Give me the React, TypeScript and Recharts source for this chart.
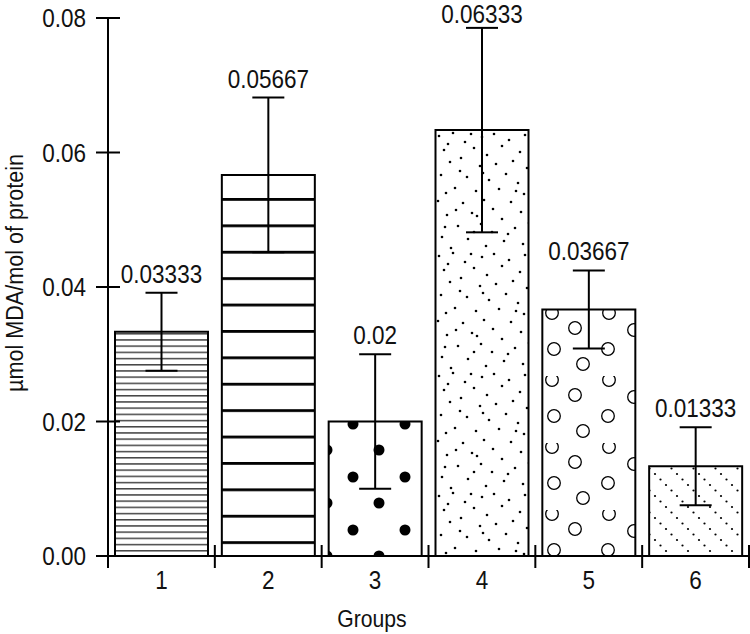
import React from 'react'
import { BarChart, Bar, XAxis, YAxis, ErrorBar, LabelList, Cell } from 'recharts'

const GROUPS = ['1', '2', '3', '4', '5', '6']
const MEANS = [0.03333, 0.05667, 0.02, 0.06333, 0.03667, 0.01333]
const ERRORS = [0.0058, 0.0115, 0.01, 0.0152, 0.0058, 0.0058]
const Y_TICKS = [0, 0.02, 0.04, 0.06, 0.08]

const FONT = '"Liberation Sans", Arial, sans-serif'
const NARROW = 0.9
const W = 750
const H = 634
const LEFT = 108
const RIGHT = 1
const HALF_BAND = (W - LEFT - RIGHT) / GROUPS.length / 2

const data = GROUPS.map((g, i) => ({ group: g, value: MEANS[i], err: ERRORS[i] }))

const FILLS = ['url(#p1)', 'url(#p2)', 'url(#p3)', 'url(#p4)', 'url(#p5)', 'url(#p6)']

// speckle positions for the group 4 texture (tile 94 x 120)
const SPECKS = [
  [3, 5], [17, 2], [29, 11], [46, 6], [58, 3], [73, 9], [89, 4], [35, 3],
  [8, 19], [38, 17], [51, 24], [66, 15], [84, 21], [12, 13],
  [14, 31], [25, 27], [44, 35], [60, 33], [77, 30], [91, 37], [24, 40],
  [5, 44], [31, 46], [53, 49], [70, 43], [82, 52], [47, 42],
  [19, 57], [40, 60], [63, 58], [88, 63], [80, 60], [10, 62],
  [2, 70], [27, 72], [48, 69], [57, 78], [75, 71],
  [11, 84], [36, 82], [66, 88], [85, 81], [41, 85], [20, 79],
  [22, 95], [45, 93], [56, 101], [79, 97], [93, 92], [9, 96],
  [6, 106], [32, 108], [68, 110], [87, 113], [72, 103],
  [15, 117], [50, 115], [38, 101],
]

const RINGS = [[11, 4], [68, 4], [34, 19], [93, 21], [13, 40], [67, 40], [42, 55]]

function Patterns() {
  return (
    <svg width={0} height={0} style={{ position: 'absolute' }}>
      <defs>
        <pattern id="p1" patternUnits="userSpaceOnUse" x={0} y={333} width={10} height={6.2}>
          <rect x={0} y={0} width={10} height={1.5} fill="#444" />
        </pattern>
        <pattern id="p2" patternUnits="userSpaceOnUse" x={0} y={198} width={10} height={26.4}>
          <rect x={0} y={0} width={10} height={2.8} fill="#000" />
        </pattern>
        <pattern id="p3" patternUnits="userSpaceOnUse" x={327} y={397} width={52} height={53}>
          <circle cx={26} cy={27} r={5.5} fill="#000" />
          <circle cx={0} cy={0} r={5.5} fill="#000" />
          <circle cx={52} cy={0} r={5.5} fill="#000" />
          <circle cx={0} cy={53} r={5.5} fill="#000" />
          <circle cx={52} cy={53} r={5.5} fill="#000" />
        </pattern>
        <pattern id="p4" patternUnits="userSpaceOnUse" x={436} y={131} width={94} height={120}>
          {SPECKS.map(([cx, cy], i) => (
            <circle key={i} cx={cx} cy={cy} r={1.3} fill="#000" />
          ))}
        </pattern>
        <pattern id="p5" patternUnits="userSpaceOnUse" x={541} y={309} width={110} height={67}>
          {RINGS.map(([cx, cy], i) => (
            <circle key={i} cx={cx} cy={cy} r={6.3} fill="none" stroke="#000" strokeWidth={1.3} />
          ))}
        </pattern>
        <pattern id="p6" patternUnits="userSpaceOnUse" x={647} y={466} width={22} height={22}>
          <circle cx={2.5} cy={2.5} r={1.1} fill="#000" />
          <circle cx={8} cy={8} r={1.1} fill="#000" />
          <circle cx={13.5} cy={13.5} r={1.1} fill="#000" />
          <circle cx={19} cy={19} r={1.1} fill="#000" />
        </pattern>
      </defs>
    </svg>
  )
}

// condensed text: plain Liberation Sans squeezed horizontally
const Narrow = ({ x, y, size, anchor = 'middle', rotate = 0, children }: any) => (
  <text
    transform={`translate(${x},${y}) rotate(${rotate}) scale(${NARROW},1)`}
    textAnchor={anchor}
    fontSize={size}
    fontFamily={FONT}
    fill="#111"
  >
    {children}
  </text>
)

const YTick = ({ x, y, payload }: any) => (
  <g>
    <line x1={x - 12} x2={x + 12} y1={y} y2={y} stroke="#000" strokeWidth={2} />
    <Narrow x={x - 22} y={y + 9} size={25} anchor="end">
      {Number(payload.value).toFixed(2)}
    </Narrow>
  </g>
)

const XTick = ({ x, y, payload, index }: any) => (
  <g>
    <line x1={x - HALF_BAND} x2={x - HALF_BAND} y1={y - 11} y2={y + 12} stroke="#000" strokeWidth={2} />
    {index === GROUPS.length - 1 && (
      <line x1={x + HALF_BAND} x2={x + HALF_BAND} y1={y - 11} y2={y + 12} stroke="#000" strokeWidth={2} />
    )}
    <Narrow x={x} y={y + 33} size={25}>
      {payload.value}
    </Narrow>
  </g>
)

const ValueLabel = (props: any) => {
  const { x, y, width, height, value, index } = props
  const perUnit = height / value
  const top = y - ERRORS[index] * perUnit
  return (
    <Narrow x={x + width / 2} y={Math.max(top - 10, 23)} size={25}>
      {String(value)}
    </Narrow>
  )
}

export default function App() {
  return (
    <div style={{ position: 'absolute', left: 0, top: 0, width: W, height: H, background: '#fff' }}>
      <Patterns />
      <BarChart width={W} height={H} data={data} margin={{ top: 18, right: RIGHT, left: 0, bottom: 0 }}>
        <XAxis
          dataKey="group"
          height={78}
          axisLine={{ stroke: '#000', strokeWidth: 2 }}
          tickLine={false}
          tickSize={0}
          tickMargin={0}
          tick={<XTick />}
          interval={0}
          label={{
            content: () => (
              <Narrow x={372} y={627} size={23.5}>
                Groups
              </Narrow>
            ),
          }}
        />
        <YAxis
          width={LEFT}
          domain={[0, 0.08]}
          ticks={Y_TICKS}
          axisLine={{ stroke: '#000', strokeWidth: 2 }}
          tickLine={false}
          tickSize={0}
          tickMargin={0}
          tick={<YTick />}
          interval={0}
          label={{
            content: () => (
              <Narrow x={23} y={273} size={24} rotate={-90}>
                µmol MDA/mol of protein
              </Narrow>
            ),
          }}
        />
        <Bar dataKey="value" barSize={93} stroke="#000" strokeWidth={2} isAnimationActive={false}>
          {data.map((_, i) => (
            <Cell key={`cell-${i}`} fill={FILLS[i]} />
          ))}
          <ErrorBar dataKey="err" width={16} stroke="#000" strokeWidth={2} isAnimationActive={false} />
          <LabelList dataKey="value" content={<ValueLabel />} />
        </Bar>
      </BarChart>
    </div>
  )
}
